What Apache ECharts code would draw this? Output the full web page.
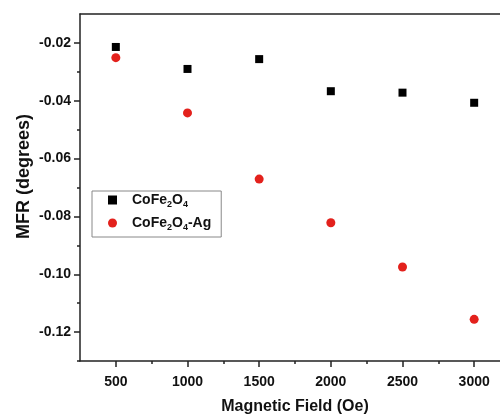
<!DOCTYPE html>
<html>
<head>
<meta charset="utf-8">
<script src="https://cdn.jsdelivr.net/npm/echarts@6/dist/echarts.min.js"></script>
<style>
  html, body { margin: 0; padding: 0; background: #fff; }
  #chart { width: 500px; height: 415px; }
</style>
</head>
<body>
<div id="chart"></div>
<script>
// Magnetic field (Oe) for each measurement
const fields = [500, 1000, 1500, 2000, 2500, 3000];
// MFR (degrees) for each sample
const mfrCoFe2O4 = [-0.0214, -0.0290, -0.0256, -0.0367, -0.0372, -0.0407];
const mfrCoFe2O4Ag = [-0.0251, -0.0442, -0.0671, -0.0822, -0.0975, -0.1156];

// Tick positions
const xMajorTicks = [500, 1000, 1500, 2000, 2500, 3000];
const xMinorTicks = [750, 1250, 1750, 2250, 2750];
const yMajorTicks = [-0.12, -0.10, -0.08, -0.06, -0.04, -0.02];
const yMinorTicks = [-0.13, -0.11, -0.09, -0.07, -0.05, -0.03];

const seriesNames = ['CoFe2O4', 'CoFe2O4-Ag'];

const axisColor = '#222';
const fontFamily = '"Liberation Sans", Arial, sans-serif';

function pairs(xs, ys) {
  return xs.map((x, i) => [x, ys[i]]);
}

const labelStyle = {
  color: '#111',
  fontFamily: fontFamily,
  fontWeight: 'bold',
  fontSize: 14
};

const tickLine = { color: axisColor, width: 1.5 };

function bareAxis(extra) {
  return Object.assign({
    type: 'value',
    axisLine: { show: false },
    axisLabel: { show: false },
    splitLine: { show: false },
    axisTick: { show: false }
  }, extra);
}

const chart = echarts.init(document.getElementById('chart'), null, { renderer: 'canvas' });

chart.setOption({
  animation: false,
  backgroundColor: '#fff',
  grid: {
    left: 80,
    top: 14,
    width: 430,
    height: 347,
    outerBoundsMode: 'none',
    containLabel: false
  },
  xAxis: [
    {
      type: 'value',
      min: 250,
      max: 3250,
      position: 'bottom',
      axisLine: { show: true, onZero: false, lineStyle: tickLine },
      axisTick: { show: true, length: 6, customValues: xMajorTicks, lineStyle: tickLine },
      axisLabel: Object.assign({
        customValues: xMajorTicks,
        margin: 14,
        formatter: v => String(v)
      }, labelStyle),
      splitLine: { show: false },
      name: 'Magnetic Field (Oe)',
      nameLocation: 'middle',
      nameGap: 38,
      nameTextStyle: { color: '#111', fontFamily: fontFamily, fontWeight: 'bold', fontSize: 16 }
    },
    // minor ticks along the bottom
    bareAxis({
      min: 250,
      max: 3250,
      position: 'bottom',
      axisTick: { show: true, length: 3, customValues: xMinorTicks, lineStyle: tickLine }
    }),
    // frame line along the top
    bareAxis({
      min: 250,
      max: 3250,
      position: 'top',
      axisLine: { show: true, onZero: false, lineStyle: tickLine }
    })
  ],
  yAxis: [
    {
      type: 'value',
      min: -0.13,
      max: -0.01,
      position: 'left',
      axisLine: { show: true, onZero: false, lineStyle: tickLine },
      axisTick: { show: true, length: 6, customValues: yMajorTicks, lineStyle: tickLine },
      axisLabel: Object.assign({
        customValues: yMajorTicks,
        margin: 9,
        formatter: v => v.toFixed(2)
      }, labelStyle),
      splitLine: { show: false },
      name: 'MFR (degrees)',
      nameLocation: 'middle',
      nameGap: 47,
      nameMoveOverlap: false,
      nameTextStyle: { color: '#111', fontFamily: fontFamily, fontWeight: 'bold', fontSize: 18, padding: [0, 0, 0, 22] }
    },
    // minor ticks along the left
    bareAxis({
      min: -0.13,
      max: -0.01,
      position: 'left',
      axisTick: { show: true, length: 3, customValues: yMinorTicks, lineStyle: tickLine }
    })
  ],
  legend: {
    data: seriesNames,
    orient: 'vertical',
    left: 92,
    top: 191,
    padding: [2, 10, 5, 16],
    itemGap: 7,
    itemWidth: 9,
    itemHeight: 9,
    borderColor: '#888',
    borderWidth: 1,
    backgroundColor: '#fff',
    formatter: name => name === 'CoFe2O4'
      ? '{b|CoFe}{s|2}{b|O}{s|4}'
      : '{b|CoFe}{s|2}{b|O}{s|4}{b|-Ag}',
    textStyle: {
      color: '#111',
      fontFamily: fontFamily,
      padding: [0, 0, 0, 10],
      rich: {
        b: { fontFamily: fontFamily, fontWeight: 'bold', fontSize: 14, color: '#111', lineHeight: 18, verticalAlign: 'middle' },
        s: { fontFamily: fontFamily, fontWeight: 'bold', fontSize: 9, color: '#111', lineHeight: 18, verticalAlign: 'bottom' }
      }
    }
  },
  series: [
    {
      name: seriesNames[0],
      type: 'scatter',
      xAxisIndex: 0,
      yAxisIndex: 0,
      symbol: 'rect',
      symbolSize: 8,
      itemStyle: { color: '#000', opacity: 1 },
      data: pairs(fields, mfrCoFe2O4)
    },
    {
      name: seriesNames[1],
      type: 'scatter',
      xAxisIndex: 0,
      yAxisIndex: 0,
      symbol: 'circle',
      symbolSize: 9,
      itemStyle: { color: '#e3211c', opacity: 1 },
      data: pairs(fields, mfrCoFe2O4Ag)
    }
  ]
});
</script>
</body>
</html>
